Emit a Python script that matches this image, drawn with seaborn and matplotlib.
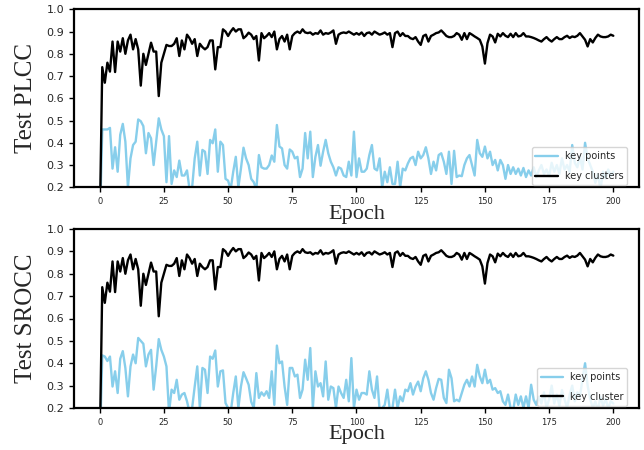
import numpy as np
import pandas as pd
import matplotlib
matplotlib.use("Agg")
import matplotlib.pyplot as plt
import seaborn as sns

# ---------------- data ----------------
plcc_clusters = [
    0.0, 0.74, 0.67, 0.76, 0.72, 0.855, 0.718, 0.855, 0.81, 0.87,
    0.80, 0.86, 0.886, 0.82, 0.866, 0.82, 0.657, 0.80, 0.75, 0.80,
    0.85, 0.81, 0.81, 0.61, 0.76, 0.80, 0.84, 0.835, 0.835, 0.845,
    0.87, 0.79, 0.86, 0.82, 0.886, 0.87, 0.845, 0.866, 0.79, 0.845,
    0.83, 0.82, 0.83, 0.86, 0.86, 0.73, 0.83, 0.83, 0.91, 0.90,
    0.88, 0.90, 0.915, 0.90, 0.91, 0.91, 0.87, 0.88, 0.895, 0.886,
    0.866, 0.88, 0.77, 0.893, 0.87, 0.88, 0.893, 0.875, 0.90, 0.82,
    0.866, 0.88, 0.855, 0.886, 0.82, 0.88, 0.893, 0.90, 0.893, 0.91,
    0.896, 0.893, 0.896, 0.886, 0.893, 0.89, 0.905, 0.886, 0.893, 0.89,
    0.896, 0.905, 0.845, 0.886, 0.893, 0.896, 0.893, 0.90, 0.893, 0.886,
    0.893, 0.886, 0.896, 0.88, 0.893, 0.896, 0.886, 0.90, 0.893, 0.886,
    0.89, 0.896, 0.886, 0.893, 0.83, 0.893, 0.90, 0.88, 0.893, 0.88,
    0.88, 0.87, 0.866, 0.875, 0.855, 0.84, 0.88, 0.886, 0.855, 0.88,
    0.886, 0.893, 0.896, 0.905, 0.893, 0.88, 0.875, 0.875, 0.88, 0.893,
    0.886, 0.863, 0.893, 0.866, 0.893, 0.886, 0.878, 0.871, 0.863, 0.833,
    0.756, 0.848, 0.886, 0.878, 0.851, 0.89, 0.878, 0.893, 0.881, 0.875,
    0.89, 0.875, 0.893, 0.878, 0.881, 0.893, 0.878, 0.878, 0.875, 0.871,
    0.866, 0.86, 0.855, 0.866, 0.875, 0.863, 0.855, 0.866, 0.875, 0.866,
    0.866, 0.875, 0.881, 0.871, 0.878, 0.875, 0.881, 0.893, 0.878, 0.863,
    0.833, 0.866, 0.851, 0.871, 0.886, 0.878, 0.875, 0.875, 0.878, 0.886,
    0.881,
]

plcc_points = [
    0.0, 0.46, 0.46, 0.46, 0.467, 0.284, 0.38, 0.27, 0.436, 0.485,
    0.405, 0.2, 0.33, 0.39, 0.405, 0.505, 0.497, 0.475, 0.353, 0.444,
    0.42, 0.30, 0.405, 0.51, 0.46, 0.43, 0.223, 0.43, 0.215, 0.276,
    0.246, 0.32, 0.253, 0.253, 0.276, 0.19, 0.2, 0.33, 0.405, 0.253,
    0.368, 0.36, 0.26, 0.413, 0.398, 0.46, 0.27, 0.405, 0.39, 0.238,
    0.23, 0.19, 0.27, 0.337, 0.2, 0.284, 0.378, 0.33, 0.30,
    0.238, 0.223, 0.19, 0.345, 0.29, 0.284, 0.284, 0.30, 0.343, 0.315,
    0.48, 0.383, 0.375, 0.30, 0.284, 0.37, 0.36, 0.33, 0.337, 0.246,
    0.284, 0.444, 0.33, 0.45, 0.246, 0.337, 0.39, 0.297, 0.36, 0.413,
    0.353, 0.315, 0.29, 0.253, 0.29, 0.284, 0.253, 0.246, 0.315, 0.253,
    0.45, 0.246, 0.33, 0.27, 0.27, 0.284, 0.345, 0.39, 0.284, 0.276,
    0.33, 0.2, 0.27, 0.223, 0.29, 0.215, 0.215, 0.315, 0.2, 0.284,
    0.276, 0.307, 0.33, 0.337, 0.30, 0.36, 0.33, 0.345, 0.38, 0.33,
    0.26, 0.315, 0.276, 0.345, 0.353, 0.315, 0.26,
    0.36, 0.215, 0.364, 0.246, 0.253, 0.25, 0.30, 0.33, 0.345, 0.30,
    0.253, 0.413, 0.353, 0.337, 0.383, 0.33, 0.36, 0.30, 0.323, 0.276,
    0.323, 0.30, 0.238, 0.30, 0.26, 0.29, 0.26, 0.284, 0.253, 0.287,
    0.246, 0.276, 0.253, 0.29, 0.246, 0.276,
    0.30, 0.26, 0.28, 0.25, 0.31, 0.27, 0.30, 0.26, 0.33, 0.28,
    0.30, 0.27, 0.39, 0.31, 0.29, 0.34, 0.28, 0.40, 0.33, 0.30,
    0.27, 0.22, 0.26, 0.19, 0.27, 0.24, 0.28, 0.25, 0.27,
]

srocc_cluster = list(plcc_clusters)

srocc_points = [
    0.0, 0.435, 0.43, 0.41, 0.43, 0.296, 0.364, 0.267, 0.42, 0.454,
    0.379, 0.252, 0.386, 0.439, 0.40, 0.513, 0.50, 0.487, 0.386, 0.439,
    0.46, 0.282, 0.386, 0.508, 0.46, 0.43, 0.386, 0.18, 0.282, 0.267,
    0.326, 0.237, 0.26, 0.267, 0.23, 0.18, 0.20, 0.296, 0.386, 0.2,
    0.379, 0.371, 0.267, 0.43, 0.42, 0.457, 0.296, 0.364, 0.368, 0.222,
    0.20, 0.18, 0.267, 0.341, 0.2, 0.296, 0.36, 0.333, 0.304,
    0.228, 0.2, 0.356, 0.245, 0.27, 0.255, 0.275, 0.245, 0.364, 0.214,
    0.479, 0.40, 0.408, 0.296, 0.214, 0.379, 0.379, 0.341, 0.349, 0.245,
    0.282, 0.416, 0.326, 0.468, 0.2, 0.364, 0.296, 0.311, 0.252, 0.408,
    0.237, 0.296, 0.289, 0.2, 0.296, 0.267, 0.245, 0.326, 0.23, 0.423,
    0.2, 0.282, 0.237, 0.267, 0.267, 0.26, 0.364, 0.282, 0.245, 0.341,
    0.19, 0.2, 0.214, 0.282, 0.19, 0.2, 0.282, 0.2, 0.252, 0.23,
    0.282, 0.275, 0.311, 0.26, 0.296, 0.318, 0.275, 0.333, 0.364, 0.326,
    0.267, 0.237, 0.289, 0.33, 0.326, 0.245, 0.222, 0.371,
    0.333, 0.23, 0.237, 0.23, 0.267, 0.304, 0.326, 0.296, 0.341, 0.296,
    0.393, 0.341, 0.311, 0.371, 0.311, 0.326, 0.282, 0.289, 0.267, 0.275,
    0.23, 0.214, 0.26, 0.2, 0.19, 0.26, 0.214, 0.252, 0.2, 0.252,
    0.2, 0.304, 0.237, 0.214,
    0.25, 0.22, 0.27, 0.2, 0.24, 0.3, 0.22, 0.26, 0.21, 0.28,
    0.24, 0.2, 0.26, 0.3, 0.23, 0.27, 0.25, 0.33, 0.40, 0.3,
    0.24, 0.2, 0.23, 0.19, 0.25, 0.21, 0.24, 0.2, 0.23, 0.22,
]

y_ticks = [0.2, 0.3, 0.4, 0.5, 0.6, 0.7, 0.8, 0.9, 1.0]
x_ticks = [0, 25, 50, 75, 100, 125, 150, 175, 200]

panels = [
    ("Test PLCC", [("key points", plcc_points), ("key clusters", plcc_clusters)]),
    ("Test SROCC", [("key points", srocc_points), ("key cluster", srocc_cluster)]),
]
colors = ["#87CEEB", "black"]

# ---------------- drawing ----------------
sns.set_style("white")
plt.rcParams["font.family"] = ["DejaVu Sans"]

fig = plt.figure(figsize=(6.44, 4.5), dpi=100)
positions = [
    [74 / 644, 1 - 187.3 / 450, 565 / 644, 178 / 450],
    [74 / 644, 1 - 408 / 450, 565 / 644, 179 / 450],
]

serif = ["Liberation Serif", "DejaVu Serif"]

for pos, (ylab, series) in zip(positions, panels):
    ax = fig.add_axes(pos)
    frames = []
    for name, vals in series:
        frames.append(pd.DataFrame({"Epoch": np.arange(len(vals)),
                                    "value": vals, "series": name}))
    df = pd.concat(frames, ignore_index=True)
    order = [s[0] for s in series]
    sns.lineplot(data=df, x="Epoch", y="value", hue="series",
                 hue_order=order, palette=dict(zip(order, colors)),
                 linewidth=1.7, ax=ax, legend=False)
    ax.set_xlim(-10, 210)
    ax.set_ylim(0.2, 1.0)
    ax.set_yticks(y_ticks)
    ax.set_yticklabels([f"{v:.1f}" for v in y_ticks], fontsize=8)
    ax.set_xticks(x_ticks)
    ax.set_xticklabels([str(v) for v in x_ticks], fontsize=6)
    ax.tick_params(axis="both", direction="out", length=3.5, width=1,
                   color="black", bottom=True, left=True)
    for sp in ax.spines.values():
        sp.set_visible(True)
        sp.set_color("black")
        sp.set_linewidth(1.6)
    ax.set_ylabel(ylab, family=serif, fontsize=18)
    ax.yaxis.set_label_coords(-0.066, 0.5)
    ax.set_xlabel("Epoch", family=serif, fontsize=16)
    ax.xaxis.set_label_coords(0.5, -0.097)
    handles = [plt.Line2D([], [], color=c, lw=1.7) for c in colors]
    ax.legend(handles, order, loc="lower right", fontsize=7,
              bbox_to_anchor=(0.979, 0.013), borderaxespad=0,
              labelspacing=1.0, handlelength=2.3, handletextpad=0.7,
              frameon=True, framealpha=0.8, edgecolor="#cccccc",
              fancybox=True)

fig.savefig("out.png", dpi=100)
